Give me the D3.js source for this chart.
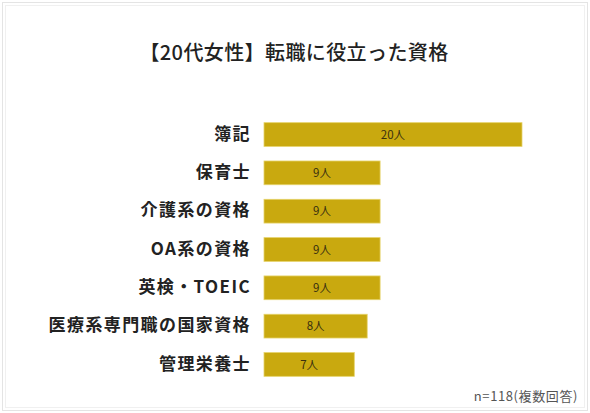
<!DOCTYPE html>
<html><head><meta charset="utf-8">
<script src="https://cdn.jsdelivr.net/npm/d3@7"></script>
<style>body{margin:0;background:#fff}svg{display:block}</style>
</head><body>
<script>
const title = "【20代女性】転職に役立った資格";
const categories = ["簿記","保育士","介護系の資格","OA系の資格","英検・TOEIC","医療系専門職の国家資格","管理栄養士"];
const values = [20,9,9,9,9,8,7];
const valueSuffix = "人";
const note = "n=118(複数回答)";

const W=590,H=413;
const svg=d3.select("body").append("svg").attr("width",W).attr("height",H);
const font='"Noto Sans CJK JP","Noto Sans",sans-serif';
// frame
svg.append("rect").attr("x",2.5).attr("y",2.5).attr("width",W-5).attr("height",H-5).attr("fill","none").attr("stroke","#e4e4e4");
svg.append("rect").attr("x",5.5).attr("y",5.5).attr("width",W-11).attr("height",H-11).attr("fill","none").attr("stroke","#f0f0f0");

svg.append("text").attr("x",294).attr("y",60).attr("text-anchor","middle")
  .attr("font-family",font).attr("font-size",20).attr("font-weight",500).attr("letter-spacing",0.4).attr("fill","#222").text(title);

const x=d3.scaleLinear().domain([0,20]).range([264,522]);
const y=d3.scaleBand().domain(categories).range([115,384]).paddingInner(0.38).paddingOuter(0.2);
const g=svg.append("g");
g.selectAll("rect.bar").data(values).join("rect").attr("class","bar")
  .attr("x",x(0)).attr("y",(d,i)=>y(categories[i])).attr("width",d=>x(d)-x(0)).attr("height",y.bandwidth())
  .attr("fill","#C9A90F").attr("stroke","#e6d36a").attr("stroke-width",0.8);
g.selectAll("text.val").data(values).join("text").attr("class","val")
  .attr("x",d=>(x(0)+x(d))/2).attr("y",(d,i)=>y(categories[i])+y.bandwidth()/2).attr("dy","0.36em")
  .attr("text-anchor","middle").attr("font-family",font).attr("font-size",11.5).attr("fill","#3a3010")
  .text(d=>d+valueSuffix);
g.selectAll("text.cat").data(categories).join("text").attr("class","cat")
  .attr("x",251).attr("y",d=>y(d)+y.bandwidth()/2-1).attr("dy","0.36em")
  .attr("text-anchor","end").attr("font-family",font).attr("font-size",17).attr("font-weight","bold").attr("letter-spacing",1.4).attr("fill","#222")
  .text(d=>d);
svg.append("text").attr("x",578).attr("y",401).attr("text-anchor","end")
  .attr("font-family",font).attr("font-size",13).attr("letter-spacing",0.6).attr("fill","#555").text(note);
</script>
</body></html>
